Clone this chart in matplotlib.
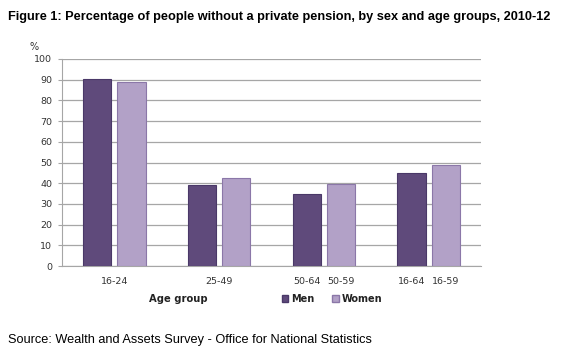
import numpy as np
import matplotlib.pyplot as plt
from matplotlib.patches import Patch

# Values (%)
men = [90.3, 39.0, 35.0, 45.0]
women = [88.7, 42.5, 39.5, 48.8]
men_labels = ['', '', '50-64', '16-64']
women_labels = ['', '', '50-59', '16-59']
group_labels = ['16-24', '25-49', '', '']

c_men = '#5F4A7B'
c_women = '#B2A1C7'

x = np.arange(len(men))
w = 0.27
off = 0.163

fig = plt.figure(figsize=(5.73, 3.53), dpi=100)
ax = fig.add_axes([62/573, 1-266/353, 419/573, 207/353])

ax.bar(x - off, men, w, color=c_men, edgecolor='#4A3868', lw=0.8, zorder=3)
ax.bar(x + off, women, w, color=c_women, edgecolor='#8B77A8', lw=0.8, zorder=3)

ax.set_xlim(-0.5, 3.5)
ax.set_ylim(0, 100)
ax.set_yticks(range(0, 101, 10))
ax.yaxis.grid(True, color='#A6A6A6', lw=0.9, zorder=0)

# x tick labels: grouped label for first two, per-bar labels for the rest
pos, labs = [], []
for i in range(len(men)):
    if group_labels[i]:
        pos.append(x[i]); labs.append(group_labels[i])
    else:
        pos += [x[i] - off, x[i] + off]; labs += [men_labels[i], women_labels[i]]
ax.set_xticks(pos)
ax.set_xticklabels(labs)
ax.tick_params(axis='x', length=0, pad=8, labelsize=6.8, labelcolor='#333333')
ax.tick_params(axis='y', length=3, color='#A6A6A6', labelsize=6.8, labelcolor='#333333', pad=4)

for s in ['top', 'right']:
    ax.spines[s].set_visible(False)
ax.spines['left'].set_color('#A6A6A6')
ax.spines['bottom'].set_color('#A6A6A6')

fig.text(30/573, 1-47/353, '%', fontsize=7, color='#333333', va='center')
fig.text(8/573, 1-17/353, 'Figure 1: Percentage of people without a private pension, by sex and age groups, 2010-12',
         fontsize=9.2, fontweight='bold', family='Liberation Sans', va='center')
fig.text(178/573, 1-299/353, 'Age group', fontsize=7.2, fontweight='bold', color='#222222', ha='center', va='center')

handles = [Patch(facecolor=c_men, edgecolor='#4A3868'), Patch(facecolor=c_women, edgecolor='#8B77A8')]
leg = fig.legend(handles, ['Men', 'Women'], loc='center', bbox_to_anchor=(332/573, 1-299/353), ncol=2,
                 frameon=False, handlelength=0.7, handleheight=0.7, handletextpad=0.3, columnspacing=1.8,
                 prop={'size': 7, 'weight': 'bold'})
for t in leg.get_texts():
    t.set_color('#222222')

fig.text(8/573, 1-340/353, 'Source: Wealth and Assets Survey - Office for National Statistics',
         fontsize=9.2, family='Liberation Sans', va='center')

fig.savefig('out.png', dpi=100, facecolor='white')
